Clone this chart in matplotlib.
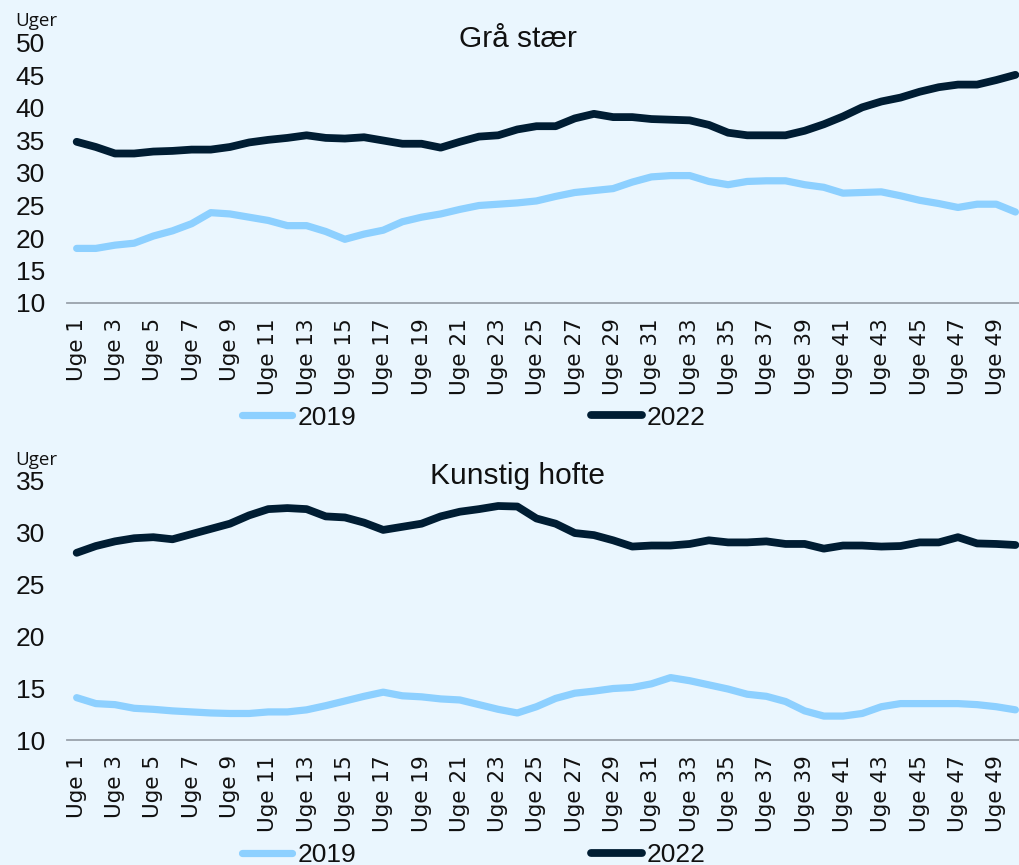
import matplotlib
matplotlib.use("Agg")
import matplotlib.pyplot as plt

# ---------------- data ----------------
weeks = [f"Uge {i}" for i in range(1, 51)]
series_names = ["2019", "2022"]

gra_staer_2019 = [18.4, 18.4, 18.9, 19.2, 20.3, 21.1, 22.2, 23.9, 23.7, 23.2,
                  22.7, 21.9, 21.9, 21.0, 19.8, 20.6, 21.2, 22.5, 23.2, 23.7,
                  24.4, 25.0, 25.2, 25.4, 25.7, 26.4, 27.0, 27.3, 27.6, 28.6,
                  29.4, 29.6, 29.6, 28.7, 28.2, 28.7, 28.8, 28.8, 28.2, 27.8,
                  26.9, 27.0, 27.1, 26.5, 25.8, 25.3, 24.7, 25.2, 25.2, 24.0]
gra_staer_2022 = [34.8, 34.0, 33.0, 33.0, 33.3, 33.4, 33.6, 33.6, 34.0, 34.7,
                  35.1, 35.4, 35.8, 35.4, 35.3, 35.5, 35.0, 34.5, 34.5, 33.9,
                  34.8, 35.6, 35.8, 36.7, 37.2, 37.2, 38.4, 39.1, 38.6, 38.6,
                  38.3, 38.2, 38.1, 37.4, 36.2, 35.8, 35.8, 35.8, 36.5, 37.5,
                  38.7, 40.1, 41.0, 41.6, 42.5, 43.2, 43.6, 43.6, 44.3, 45.1]

hofte_2019 = [14.07, 13.5, 13.4, 13.05, 12.95, 12.8, 12.7, 12.6, 12.55, 12.55,
              12.7, 12.7, 12.9, 13.3, 13.75, 14.2, 14.6, 14.25, 14.15, 13.95,
              13.85, 13.4, 12.95, 12.6, 13.2, 14.0, 14.5, 14.7, 14.95, 15.05,
              15.4, 16.0, 15.7, 15.3, 14.9, 14.4, 14.2, 13.7, 12.8, 12.3,
              12.3, 12.55, 13.2, 13.5, 13.5, 13.5, 13.5, 13.4, 13.2, 12.9]
hofte_2022 = [28.0, 28.65, 29.1, 29.4, 29.5, 29.3, 29.8, 30.3, 30.8, 31.6,
              32.2, 32.3, 32.2, 31.5, 31.4, 30.9, 30.2, 30.5, 30.8, 31.5,
              31.95, 32.2, 32.5, 32.45, 31.3, 30.8, 29.9, 29.7, 29.2, 28.6,
              28.7, 28.7, 28.85, 29.2, 29.0, 29.0, 29.1, 28.85, 28.85, 28.4,
              28.7, 28.7, 28.6, 28.65, 29.0, 29.0, 29.5, 28.9, 28.85, 28.75]

titles = ["Grå stær", "Kunstig hofte"]
y_unit = "Uger"
top_ticks = [10, 15, 20, 25, 30, 35, 40, 45, 50]
bottom_ticks = [10, 15, 20, 25, 30, 35]

# ---------------- style ----------------
BG = "#EAF6FE"
C19 = "#8DD0FF"
C22 = "#001D33"
SPINE = "#9AA2AC"
W, H = 1020, 865

fig = plt.figure(figsize=(W / 100, H / 100), dpi=100, facecolor=BG)


def px_axes(left, top, right, bottom):
    return [left / W, 1 - bottom / H, (right - left) / W, (bottom - top) / H]


panels = [
    dict(rect=(67.1, 43, 1025, 303), d19=gra_staer_2019, d22=gra_staer_2022,
         ticks=top_ticks, title=titles[0], title_y=47, unit_y=26, leg_y=417.5),
    dict(rect=(67.1, 480, 1025, 740), d19=hofte_2019, d22=hofte_2022,
         ticks=bottom_ticks, title=titles[1], title_y=484, unit_y=465, leg_y=855),
]

x = list(range(len(weeks)))
for p in panels:
    ax = fig.add_axes(px_axes(*p["rect"]))
    ax.set_facecolor(BG)
    ax.plot(x, p["d19"], color=C19, lw=5.2, solid_capstyle="round",
            solid_joinstyle="round", label=series_names[0], clip_on=False)
    ax.plot(x, p["d22"], color=C22, lw=5.6, solid_capstyle="round",
            solid_joinstyle="round", label=series_names[1], clip_on=False)
    ax.set_xlim(-0.5, len(weeks) - 0.5)
    ax.set_ylim(p["ticks"][0], p["ticks"][-1])
    ax.set_yticks(p["ticks"])
    ax.set_yticklabels([str(t) for t in p["ticks"]], fontsize=19,
                       family="Liberation Sans", color="#111111")
    ax.set_xticks(x[::2])
    ax.set_xticklabels(weeks[::2], rotation=90, fontsize=15.5,
                       family="DejaVu Sans", color="#111111")
    ax.tick_params(axis="y", length=0, pad=16)
    ax.tick_params(axis="x", length=0, pad=11)
    for s in ("top", "left", "right"):
        ax.spines[s].set_visible(False)
    ax.spines["bottom"].set_color(SPINE)
    ax.spines["bottom"].set_linewidth(1.3)

    fig.text(517.5 / W, 1 - p["title_y"] / H, p["title"], ha="center",
             va="baseline", fontsize=21.5, family="Liberation Sans",
             color="#111111")
    fig.text(15 / W, 1 - p["unit_y"] / H, y_unit, ha="left", va="baseline",
             fontsize=13.5, family="Open Sans", color="#111111")

    leg = ax.legend(loc="center", bbox_to_anchor=(474 / W, 1 - p["leg_y"] / H),
                    bbox_transform=fig.transFigure, ncol=2, frameon=False,
                    prop={"family": "Liberation Sans", "size": 19},
                    handlelength=1.9, handletextpad=0.2, columnspacing=8.9,
                    borderpad=0, borderaxespad=0)
    for t in leg.get_texts():
        t.set_color("#111111")

fig.savefig("out.png", dpi=100, facecolor=BG)
